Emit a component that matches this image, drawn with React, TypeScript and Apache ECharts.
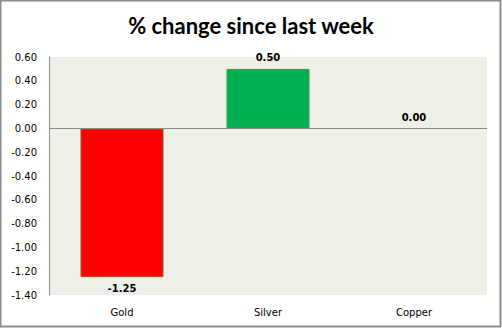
import React, { useEffect, useRef } from "react";
import * as echarts from "echarts";

const categories = ["Gold", "Silver", "Copper"];
const values = [-1.25, 0.5, 0.0];
const barColors = ["#FF0000", "#00B050", "#00B050"];
const borderColors = ["#A0522D", "#3E9B5A", "#3E9B5A"];
const titleText = "% change since last week";

export default function App() {
  const ref = useRef<HTMLDivElement>(null);
  useEffect(() => {
    document.body.style.margin = "0";
    const chart = echarts.init(ref.current!, null, { renderer: "svg" });
    chart.setOption({
      animation: false,
      backgroundColor: "#FFFFFF",
      title: {
        text: titleText,
        left: "center",
        top: 9,
        textStyle: { fontFamily: "Lato", fontWeight: "bold", fontSize: 22, color: "#000" },
      },
      graphic: [
        {
          type: "rect",
          shape: { x: 0.5, y: 0.5, width: 500, height: 326 },
          style: { fill: "none", stroke: "#8C8C8C", lineWidth: 2 },
          silent: true,
        },
      ],
      grid: {
        left: 49,
        right: 15,
        top: 57,
        bottom: 34,
        show: true,
        backgroundColor: "#EEF0E8",
        borderWidth: 0,
      },
      xAxis: {
        type: "category",
        data: categories,
        position: "bottom",
        axisLine: { show: false },
        axisTick: { show: false },
        axisLabel: {
          fontFamily: "DejaVu Sans",
          fontSize: 10,
          color: "#000",
          margin: 12,
        },
      },
      yAxis: {
        type: "value",
        min: -1.4,
        max: 0.6,
        interval: 0.2,
        axisLine: { show: true, lineStyle: { color: "#8C8C8C", width: 1 } },
        axisTick: { show: false },
        splitLine: { show: false },
        axisLabel: {
          fontFamily: "DejaVu Sans",
          fontSize: 10,
          color: "#000",
          margin: 12,
          formatter: (v: number) => v.toFixed(2),
        },
      },
      series: [
        {
          type: "bar",
          barWidth: 83,
          data: values.map((v, i) => ({
            value: v,
            itemStyle: {
              color: barColors[i],
              borderColor: borderColors[i],
              borderWidth: v === 0 ? 0 : 1,
            },
            label: { position: v < 0 ? "bottom" : "top" },
          })),
          label: {
            show: true,
            formatter: (p: any) => Number(p.value).toFixed(2),
            fontFamily: "DejaVu Sans",
            fontWeight: "bold",
            fontSize: 10,
            color: "#000",
            distance: 6,
          },
          markLine: {
            silent: true,
            symbol: "none",
            label: { show: false },
            lineStyle: { color: "#8C8C8C", type: "solid", width: 1 },
            data: [{ yAxis: 0 }],
          },
        },
      ],
    });
    return () => chart.dispose();
  }, []);
  return <div ref={ref} style={{ width: 502, height: 329 }} />;
}
